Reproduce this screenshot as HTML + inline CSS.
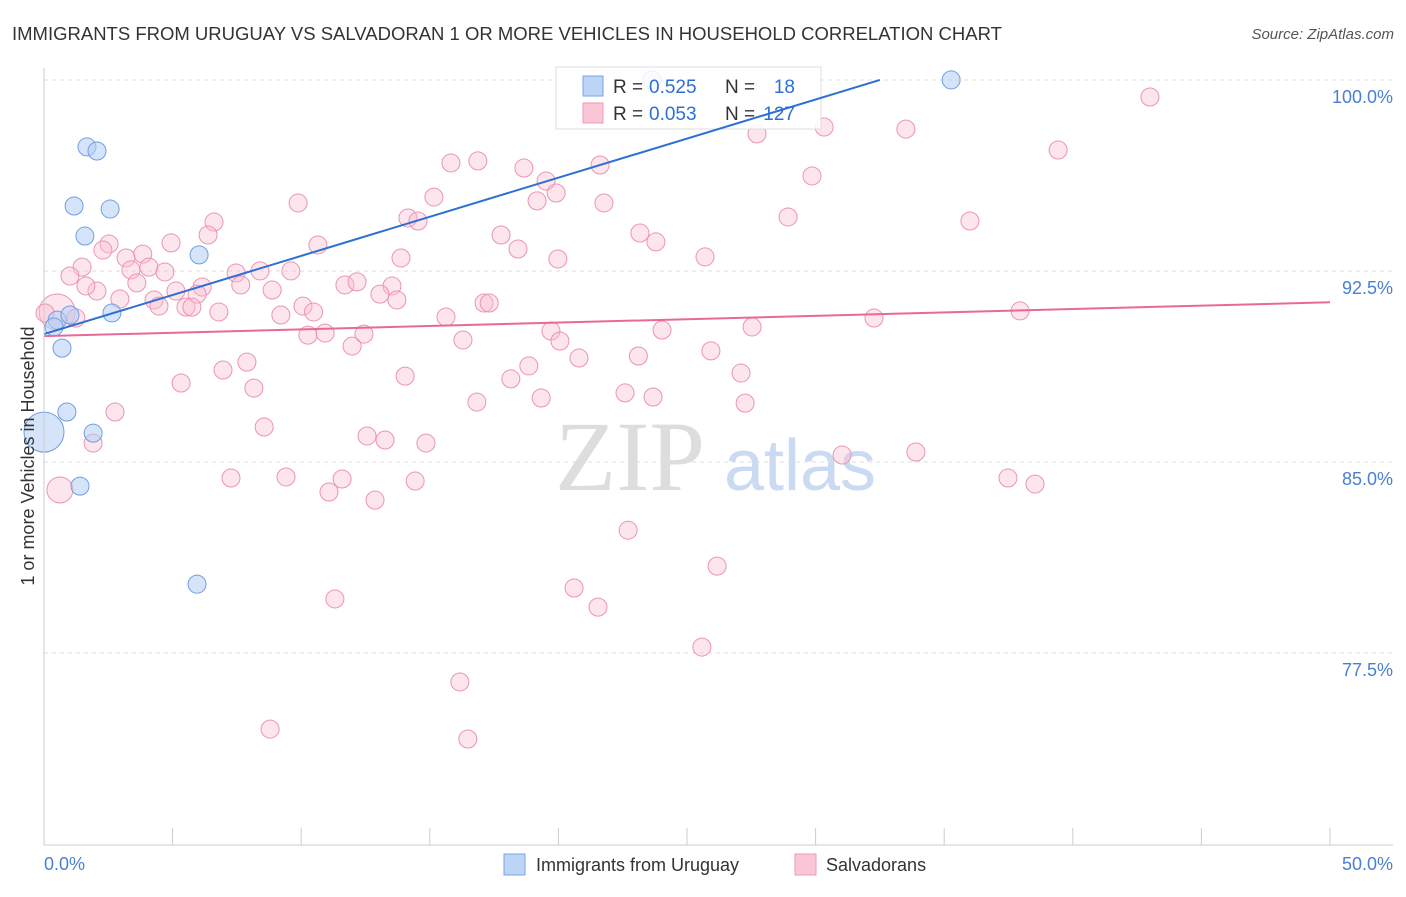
<!DOCTYPE html>
<html><head><meta charset="utf-8"><style>
body{margin:0;background:#fff;font-family:"Liberation Sans",sans-serif;}
</style></head><body>
<svg width="1406" height="892" xmlns="http://www.w3.org/2000/svg" id="chart">
<text x="12" y="40" font-size="18.5" fill="#333">IMMIGRANTS FROM URUGUAY VS SALVADORAN 1 OR MORE VEHICLES IN HOUSEHOLD CORRELATION CHART</text>
<text x="1394" y="39" font-size="15" fill="#555" font-style="italic" text-anchor="end">Source: ZipAtlas.com</text>
<text x="630" y="490" font-size="100" fill="#ddd" text-anchor="middle" font-family="Liberation Serif">ZIP</text>
<text x="800" y="490" font-size="72" fill="#c9daf2" text-anchor="middle">atlas</text>
<g id="grid"></g><g id="marks"></g>
<g>
<rect x="556" y="67" width="265" height="62" fill="#fff" fill-opacity="0.85" stroke="#ddd"/>
<rect x="583" y="76" width="20" height="20" fill="#bcd4f5" stroke="#7aa6e6"/>
<rect x="583" y="103" width="20" height="20" fill="#f9c6d6" stroke="#ee9ab6"/>
<text x="613" y="93" font-size="19" fill="#333">R =</text>
<text x="649" y="93" font-size="19" fill="#2e6fd6">0.525</text>
<text x="725" y="93" font-size="19" fill="#333">N =</text>
<text x="795" y="93" font-size="19" fill="#2e6fd6" text-anchor="end">18</text>
<text x="613" y="120" font-size="19" fill="#333">R =</text>
<text x="649" y="120" font-size="19" fill="#2e6fd6">0.053</text>
<text x="725" y="120" font-size="19" fill="#333">N =</text>
<text x="795" y="120" font-size="19" fill="#2e6fd6" text-anchor="end">127</text>
</g>
<g id="lines"></g>
<line x1="44" y1="68" x2="44" y2="845" stroke="#ccc"/>
<line x1="44" y1="845" x2="1393" y2="845" stroke="#ccc"/>
<text transform="translate(34,456) rotate(-90)" font-size="18" fill="#333" text-anchor="middle">1 or more Vehicles in Household</text>
<text x="44" y="870" font-size="18" fill="#4a7fd4">0.0%</text>
<text x="1393" y="870" font-size="18" fill="#4a7fd4" text-anchor="end">50.0%</text>
<g>
<rect x="504" y="854" width="21" height="21" fill="#bcd4f5" stroke="#7aa6e6"/>
<text x="536" y="871" font-size="18" fill="#333">Immigrants from Uruguay</text>
<rect x="795" y="854" width="21" height="21" fill="#f9c6d6" stroke="#ee9ab6"/>
<text x="826" y="871" font-size="18" fill="#333">Salvadorans</text>
</g>
</svg>
<script>
const yTicks=[100,92.5,85,77.5];
const yTickLabels=["100.0%","92.5%","85.0%","77.5%"];
const xTicks=[0,5,10,15,20,25,30,35,40,45,50];
const blueX=[0,1.67,2.06,1.17,2.57,1.59,6.03,0.51,1.01,2.64,0.39,0.70,0.89,1.91,1.40,5.95,35.27,23.64];
const blueY=[86.84,98.04,97.88,95.72,95.60,94.54,93.80,91.24,91.44,91.52,90.97,90.14,87.63,86.80,84.72,80.87,100.67,100.67];
const blueR=[20,9,9,9,9,9,9,9,9,9,9,9,9,9,9,9,9,9];
const pinkX=[43.0,30.33,27.72,33.51,39.43,16.87,15.82,18.66,21.62,29.86,19.52,19.91,15.16,19.17,9.88,21.77,14.15,14.54,28.93,36.0,6.61,6.38,23.17,17.77,23.79,10.65,2.53,2.29,4.94,18.43,3.84,3.19,13.88,19.98,25.70,1.48,4.08,3.38,4.70,7.47,8.40,9.60,1.01,3.61,7.65,11.70,12.17,13.53,2.06,1.63,5.13,6.15,8.87,5.95,13.06,2.95,4.28,13.72,4.47,5.52,5.75,10.07,17.11,17.31,6.80,10.48,9.21,15.63,0.51,1.24,10.26,10.93,12.44,19.71,24.03,27.53,32.27,37.95,11.98,16.29,20.06,20.80,23.11,25.93,7.89,6.96,18.85,14.04,18.15,27.10,5.33,8.16,22.59,23.68,19.33,16.83,27.26,2.76,8.56,12.56,13.26,14.85,1.91,31.03,33.90,7.27,9.41,11.59,14.43,11.08,12.87,37.48,38.53,0.62,22.71,26.17,20.61,21.54,11.31,25.58,16.17,8.79,16.48,0.04];
const pinkY=[100.0,98.82,98.55,98.74,97.92,97.49,97.41,97.21,97.33,96.90,96.70,96.23,96.07,95.92,95.84,95.84,95.25,95.13,95.29,95.13,95.09,94.58,94.66,94.58,94.31,94.19,94.23,93.99,94.27,94.03,93.83,93.68,93.68,93.64,93.72,93.32,93.32,93.21,93.13,93.09,93.17,93.17,92.97,92.70,92.62,92.62,92.74,92.58,92.38,92.58,92.38,92.54,92.42,92.26,92.26,92.07,92.03,92.03,91.79,91.75,91.75,91.79,91.91,91.91,91.56,91.56,91.44,91.36,91.56,91.32,90.65,90.73,90.69,90.81,90.85,90.97,91.32,91.60,90.22,90.46,90.42,89.75,89.83,90.03,89.59,89.28,89.44,89.04,88.93,89.16,88.77,88.57,88.38,88.22,88.18,88.02,87.98,87.63,87.04,86.69,86.53,86.41,86.41,85.94,86.06,85.04,85.08,85.0,84.92,84.49,84.17,85.04,84.80,84.57,82.99,81.58,80.72,79.97,80.29,78.40,77.03,75.18,74.79,91.52];
const blueLineX=[0,32.5];const blueLineY=[90.69,100.67];
const pinkLineX=[0,50];const pinkLineY=[90.61,91.94];
const NS="http://www.w3.org/2000/svg";
const xs=v=>44+v/50*1286;
const ys=v=>97+(100-v)/7.5*191;
function mk(t,a,p){const e=document.createElementNS(NS,t);for(const k in a)e.setAttribute(k,a[k]);document.getElementById(p).appendChild(e);return e;}
yTicks.forEach((t,i)=>{
 const l=mk('line',{x1:44,x2:1393,y1:ys(t)-17,y2:ys(t)-17,stroke:'#ddd','stroke-dasharray':'4,4'},'grid');
 
 
 const tx=mk('text',{x:1393,y:ys(t)+6,'font-size':18,fill:'#4a7fd4','text-anchor':'end'},'grid');
 tx.textContent=yTickLabels[i];
 
 
});
xTicks.forEach(t=>{
 const l=mk('line',{x1:xs(t),x2:xs(t),y1:828,y2:845,stroke:'#ccc'},'grid');
 
 
});
pinkX.forEach((x,i)=>{
 const r=(i==68)?18:(i==113)?13:(i==126)?16:9;
 const c=mk('circle',{cx:xs(x),cy:ys(pinkY[i]),r:r,fill:'rgba(249,190,210,0.4)',stroke:'#eb94b3','stroke-width':1},'marks');
 
 
});
blueX.forEach((x,i)=>{
 const c=mk('circle',{cx:xs(x),cy:ys(blueY[i]),r:blueR[i],fill:'rgba(180,206,244,0.55)',stroke:'#6f9fe2','stroke-width':1},'marks');
 
 
});
const bl=mk('line',{x1:xs(blueLineX[0]),y1:ys(blueLineY[0]),x2:xs(blueLineX[1]),y2:ys(blueLineY[1]),stroke:'#2d6fd4','stroke-width':2},'lines');


const pl=mk('line',{x1:xs(pinkLineX[0]),y1:ys(pinkLineY[0]),x2:xs(pinkLineX[1]),y2:ys(pinkLineY[1]),stroke:'#e8689a','stroke-width':2},'lines');


</script>
</body></html>
